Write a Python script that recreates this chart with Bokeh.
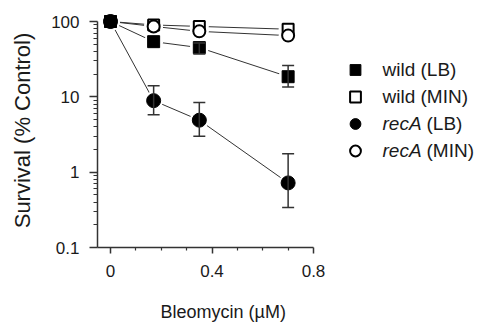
from bokeh.plotting import figure
from bokeh.models import (Range1d, FixedTicker, Legend, LegendItem, Label, Whisker, Title,
                          ColumnDataSource, TeeHead, CustomJSTickFormatter)
from bokeh.embed import file_html
from bokeh.resources import INLINE

# ---------------- data ----------------
dose = [0, 0.17, 0.35, 0.70]
wild_lb = [100, 54, 45, 18.5]
wild_lb_lo = [100, 54, 37, 13.5]
wild_lb_hi = [100, 54, 52, 26]
wild_min = [100, 90, 86, 79]
recA_lb = [100, 8.9, 4.9, 0.72]
recA_lb_lo = [100, 5.8, 3.0, 0.34]
recA_lb_hi = [100, 14, 8.4, 1.75]
recA_min = [100, 86, 74, 65]

x_ticks = [0, 0.4, 0.8]
x_minor_ticks = [0.1, 0.2, 0.3, 0.5, 0.6, 0.7]
y_ticks = [0.1, 1, 10, 100]
legend_labels = [("wild", "(LB)"), ("wild", "(MIN)"), ("recA", "(LB)"), ("recA", "(MIN)")]
x_title = "Bleomycin (\u00b5M)"
y_title = "Survival (% Control)"

# ---------------- layout ----------------
W, H = 485, 330
FL, FR, FT, FB = 97, 7, 13, 83
frame_w = W - FL - FR
frame_h = H - FT - FB
PX_PER_X = 253.75          # pixels per dose unit
X0_OFF = 13                # pixels from frame left to dose 0
PX_PER_DEC = 226 / 3.0     # pixels per decade
xs = -X0_OFF / PX_PER_X
xe = xs + frame_w / PX_PER_X
ye = 10 ** (-1 + frame_h / PX_PER_DEC)

FONT = "Liberation Sans"
INK = "#1a1a1a"

p = figure(width=W, height=H, x_range=Range1d(xs, xe), y_range=Range1d(0.1, ye),
           y_axis_type="log", output_backend="svg", toolbar_location=None,
           min_border_left=FL, min_border_right=FR, min_border_top=FT, min_border_bottom=FB)
p.outline_line_color = None
p.xgrid.visible = False
p.ygrid.visible = False
p.background_fill_color = "white"
p.border_fill_color = "white"

fmt = CustomJSTickFormatter(code="return String(Number(tick.toPrecision(3)));")

xa = p.xaxis[0]
xa.ticker = FixedTicker(ticks=x_ticks, minor_ticks=x_minor_ticks)
xa.formatter = fmt
xa.bounds = (xs, max(x_ticks))
xa.major_tick_out = 6
xa.minor_tick_out = 3
xa.major_tick_in = 0
xa.minor_tick_in = 0
xa.major_label_standoff = 11
xa.major_label_text_font = FONT
xa.major_label_text_font_size = "17px"
xa.major_label_text_color = INK

ya = p.yaxis[0]
ya.ticker = FixedTicker(ticks=y_ticks, minor_ticks=[m * t for t in y_ticks[:-1] for m in range(2, 10)])
ya.formatter = fmt
ya.bounds = (min(y_ticks), max(y_ticks))
ya.major_tick_out = 8
ya.minor_tick_out = 4
ya.major_tick_in = 0
ya.minor_tick_in = 0
ya.major_label_standoff = 10
ya.major_label_text_font = FONT
ya.major_label_text_font_size = "17px"
ya.major_label_text_color = INK
ya.axis_label = y_title
ya.axis_label_text_font = FONT
ya.axis_label_text_font_size = "22px"
ya.axis_label_text_font_style = "normal"
ya.axis_label_text_color = INK
ya.axis_label_standoff = 13

for ax in (xa, ya):
    ax.axis_line_color = "#333333"
    ax.axis_line_width = 1.5
    ax.major_tick_line_color = "#333333"
    ax.major_tick_line_width = 1.5
    ax.minor_tick_line_color = "#333333"
    ax.minor_tick_line_width = 1.2

# empty spacer band between the tick labels and the x-axis title
p.add_layout(Title(text=" ", standoff=0, text_font=FONT, text_font_size="15px"), "below")
p.add_layout(Title(text=x_title, align="left", offset=160 - FL, standoff=2,
                   text_font=FONT, text_font_size="18px", text_font_style="normal",
                   text_color=INK), "below")

# ---------------- lines ----------------
series = [wild_lb, wild_min, recA_lb, recA_min]
for ys in series:
    p.line(dose, ys, line_color="#333333", line_width=1)

# white halos so the connecting lines stop short of the markers
for ys in series:
    p.scatter(dose, ys, marker="circle", size=19, fill_color="white", line_color=None)

# ---------------- error bars ----------------
for lo, hi in ((wild_lb_lo, wild_lb_hi), (recA_lb_lo, recA_lb_hi)):
    keep = [i for i in range(len(dose)) if lo[i] != hi[i]]
    src = ColumnDataSource(dict(x=[dose[i] for i in keep], lo=[lo[i] for i in keep],
                                hi=[hi[i] for i in keep]))
    p.add_layout(Whisker(source=src, base="x", lower="lo", upper="hi", dimension="height",
                         level="glyph", line_color="#333333", line_width=1.5,
                         upper_head=TeeHead(size=12, line_color="#333333", line_width=1.5),
                         lower_head=TeeHead(size=12, line_color="#333333", line_width=1.5)))

# ---------------- markers ----------------
r_wl = p.scatter(dose, wild_lb, marker="square", size=12, fill_color="black", line_color="black")
r_wm = p.scatter(dose, wild_min, marker="square", size=11, fill_color="white",
                 line_color="black", line_width=2)
r_rm = p.scatter(dose, recA_min, marker="circle", size=12, fill_color="white",
                 line_color="black", line_width=2)
r_rl = p.scatter(dose, recA_lb, marker="circle", size=14, fill_color="black", line_color="black")
renderers = [r_wl, r_wm, r_rl, r_rm]

# ---------------- legend ----------------
GW, GH = 30, 27
row0 = 69 - FT            # first row centre, px below frame top
leg_x = 354.5 - FL - GW / 2
leg_h = 4 * GH
leg_y = frame_h - (row0 - GH / 2) - leg_h
legend = Legend(items=[LegendItem(label=" ", renderers=[r]) for r in renderers],
                location=(leg_x, leg_y), glyph_width=GW, glyph_height=GH,
                label_height=GH, label_width=1, spacing=0, padding=0, margin=0,
                label_standoff=0, border_line_alpha=0, background_fill_alpha=0,
                label_text_font_size="1px")
p.add_layout(legend)

TX = 382 - FL
for i, (word, medium) in enumerate(legend_labels):
    yc = frame_h - row0 - i * GH
    italic = word == "recA"
    p.add_layout(Label(x=TX, y=yc, x_units="screen", y_units="screen", text=word,
                       text_font=FONT, text_font_size="19px",
                       text_font_style="italic" if italic else "normal",
                       text_baseline="middle", text_align="left", text_color=INK))
    off = 44 if italic else 38
    p.add_layout(Label(x=TX + off, y=yc, x_units="screen", y_units="screen", text=medium,
                       text_font=FONT, text_font_size="19px", text_baseline="middle",
                       text_align="left", text_color=INK))

open("out.html", "w").write(file_html(p, INLINE))
